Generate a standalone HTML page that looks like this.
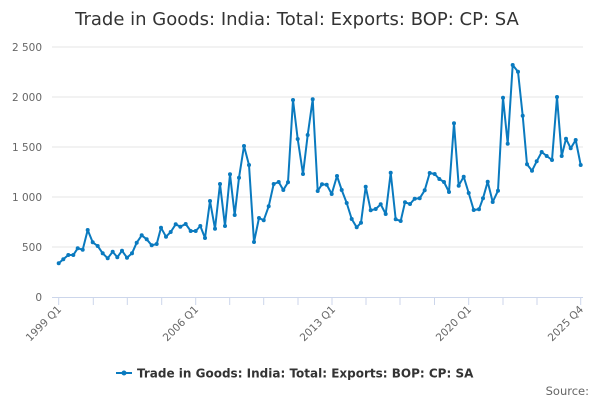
<!DOCTYPE html>
<html><head><meta charset="utf-8"><style>
body{margin:0;background:#fff;width:600px;height:400px;overflow:hidden;font-family:"DejaVu Sans","Liberation Sans",sans-serif}
</style></head><body>
<svg width="600" height="400" xmlns="http://www.w3.org/2000/svg" font-family="DejaVu Sans, Liberation Sans, sans-serif">
<defs><marker id="m" markerWidth="6" markerHeight="6" refX="3" refY="3" markerUnits="userSpaceOnUse"><circle cx="3" cy="3" r="2" fill="#0a7abf"/></marker></defs>
<text x="297" y="25" text-anchor="middle" font-size="18" fill="#333">Trade in Goods: India: Total: Exports: BOP: CP: SA</text>
<g stroke="#e6e6e6" stroke-width="1">
<line x1="52" y1="47" x2="583" y2="47"/><line x1="52" y1="97" x2="583" y2="97"/><line x1="52" y1="147" x2="583" y2="147"/><line x1="52" y1="197" x2="583" y2="197"/><line x1="52" y1="247" x2="583" y2="247"/>
</g>
<line x1="52" y1="297.5" x2="583" y2="297.5" stroke="#ccd6eb"/>
<g fill="#666" font-size="10.5" text-anchor="end">
<text x="42" y="51">2 500</text><text x="42" y="101">2 000</text><text x="42" y="151">1 500</text><text x="42" y="201">1 000</text><text x="42" y="251">500</text><text x="42" y="301">0</text>
</g>
<g stroke="#ccd6eb">
<line x1="58.7" y1="298" x2="58.7" y2="305"/><line x1="93.3" y1="298" x2="93.3" y2="305"/><line x1="127.3" y1="298" x2="127.3" y2="305"/><line x1="161.7" y1="298" x2="161.7" y2="305"/><line x1="195.7" y1="298" x2="195.7" y2="305"/><line x1="229.7" y1="298" x2="229.7" y2="305"/><line x1="263.7" y1="298" x2="263.7" y2="305"/><line x1="298" y1="298" x2="298" y2="305"/><line x1="332" y1="298" x2="332" y2="305"/><line x1="366" y1="298" x2="366" y2="305"/><line x1="400" y1="298" x2="400" y2="305"/><line x1="434.5" y1="298" x2="434.5" y2="305"/><line x1="468.7" y1="298" x2="468.7" y2="305"/><line x1="503" y1="298" x2="503" y2="305"/><line x1="537" y1="298" x2="537" y2="305"/><line x1="580.7" y1="298" x2="580.7" y2="305"/>
</g>
<g fill="#666" font-size="10.5" text-anchor="end">
<text transform="translate(62,310) rotate(-45)">1999 Q1</text>
<text transform="translate(199,310) rotate(-45)">2006 Q1</text>
<text transform="translate(336,310) rotate(-45)">2013 Q1</text>
<text transform="translate(472,310) rotate(-45)">2020 Q1</text>
<text transform="translate(584,310) rotate(-45)">2025 Q4</text>
</g>
<polyline fill="none" stroke="#0a7abf" stroke-width="2" stroke-linejoin="round" marker-start="url(#m)" marker-mid="url(#m)" marker-end="url(#m)" points="58.7,263.3 63.3,259.3 68.3,255 73.3,255 77.7,248.3 82.7,249.7 87.7,230 92.7,242.3 97.7,246 102.7,253.3 107.7,258.3 112.7,251.7 117.3,257.3 122,250.7 127,257.7 132,253.3 136.7,242.7 141.7,235.3 146.7,239.3 151.7,245.3 156.7,244 161,227.7 166,236.7 170.7,232 175.7,224.3 180.3,226.7 185.7,224 190.7,231 195.7,231 200.3,226 205,238 210,201 215,228.7 220,184 225,226 230,174.3 234.7,215 239,177.7 244,146 249,165 254,242 259,218 263.7,220.3 268.7,206.3 273.7,184 278.7,182 283.3,190 288,182.3 293,100 297.7,139 303,174 307.7,135 312.7,99.3 317.7,191 322,184.3 326.7,184.7 331.7,194 337,176 341.7,190 346.7,203 351.7,219 356.7,227.3 361,222.7 365.7,186.7 370.7,210.3 375.7,209 380.7,204.3 385.7,214 390.7,172.7 395.7,219.3 400.7,221 405,202.3 410,204 414.7,198.7 419.7,198.3 424.7,190.3 429.7,173 434.7,174 439.3,179 444,182 449,192 454,123.3 458.7,185.7 463.7,176.7 468.7,193 473.7,210 479,209.3 483,198.3 487.7,181.7 492.7,202 498,190.7 503,97.7 507.7,143.7 512.7,65 518,71.7 522.7,115.7 527,164.3 532,170.7 536.7,161.3 541.7,152 546.7,156 552,160 557,97 561.7,156 566,138.7 570.7,148.3 575.7,140 580.7,165"/>
<line x1="116" y1="373" x2="132" y2="373" stroke="#0a7abf" stroke-width="2"/>
<circle cx="124" cy="373" r="2.5" fill="#0a7abf"/>
<text x="137" y="377.5" font-size="12" font-weight="bold" fill="#333">Trade in Goods: India: Total: Exports: BOP: CP: SA</text>
<text x="589" y="395" font-size="11.5" text-anchor="end" fill="#666">Source:</text>
</svg>
</body></html>
